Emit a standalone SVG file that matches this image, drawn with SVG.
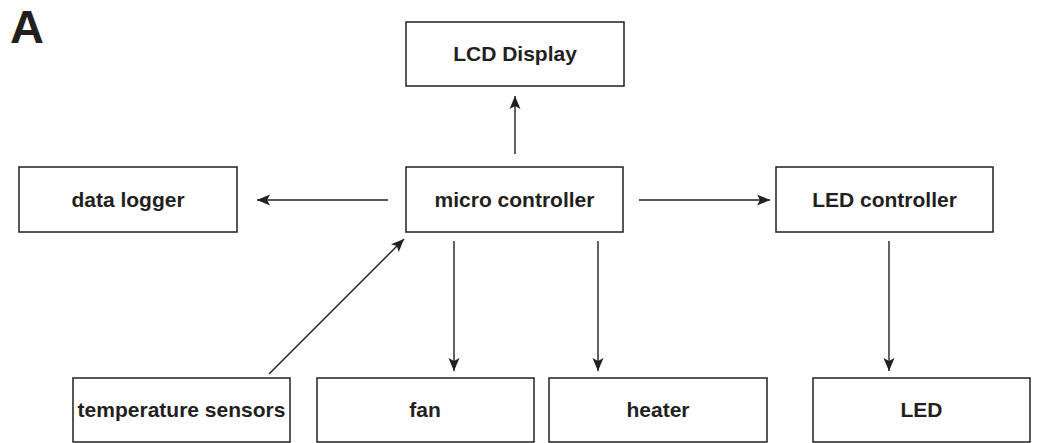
<svg xmlns="http://www.w3.org/2000/svg" width="1039" height="443" viewBox="0 0 1039 443">
<style>
.box{fill:#fff;stroke:#231f20;stroke-width:1.5}
.lbl{font-family:"Liberation Sans",Arial,sans-serif;font-weight:bold;font-size:21px;fill:#231f20;text-anchor:middle}
.con{stroke:#231f20;stroke-width:1.4;fill:none;marker-end:url(#ah)}
</style>
<defs>
<marker id="ah" markerUnits="userSpaceOnUse" markerWidth="14" markerHeight="12" viewBox="0 0 14 12" refX="13" refY="6" orient="auto">
<path d="M0,0.5 L13,6 L0,11.5 L3,6 Z" fill="#231f20"/>
</marker>
</defs>
<rect width="1039" height="443" fill="#fff"/>
<text x="10" y="43" style="font-family:'Liberation Sans',Arial,sans-serif;font-weight:bold;font-size:47px;fill:#231f20">A</text>
<g id="lcd"><rect class="box" x="406" y="22" width="218" height="64"/><text class="lbl" x="515" y="61">LCD Display</text></g>
<g id="datalogger"><rect class="box" x="19" y="167" width="218" height="65"/><text class="lbl" x="128" y="207">data logger</text></g>
<g id="micro"><rect class="box" x="406" y="167" width="217" height="65"/><text class="lbl" x="514.5" y="207">micro controller</text></g>
<g id="ledctrl"><rect class="box" x="776" y="167" width="217" height="65"/><text class="lbl" x="884.5" y="207">LED controller</text></g>
<g id="temp"><rect class="box" x="73" y="378" width="217" height="64"/><text class="lbl" x="181.5" y="417">temperature sensors</text></g>
<g id="fan"><rect class="box" x="317" y="378" width="217" height="64"/><text class="lbl" x="425" y="417">fan</text></g>
<g id="heater"><rect class="box" x="549" y="378" width="218" height="64"/><text class="lbl" x="658" y="417">heater</text></g>
<g id="led"><rect class="box" x="813" y="378" width="217" height="64"/><text class="lbl" x="921.5" y="417">LED</text></g>
<g id="connectors">
<line class="con" x1="515" y1="154" x2="515" y2="96"/>
<line class="con" x1="388" y1="200" x2="257" y2="200"/>
<line class="con" x1="639" y1="200" x2="770" y2="200"/>
<line class="con" x1="269" y1="374" x2="404" y2="239"/>
<line class="con" x1="454" y1="241" x2="454" y2="371"/>
<line class="con" x1="598" y1="241" x2="598" y2="371"/>
<line class="con" x1="889" y1="241" x2="889" y2="371"/>
</g>
</svg>
